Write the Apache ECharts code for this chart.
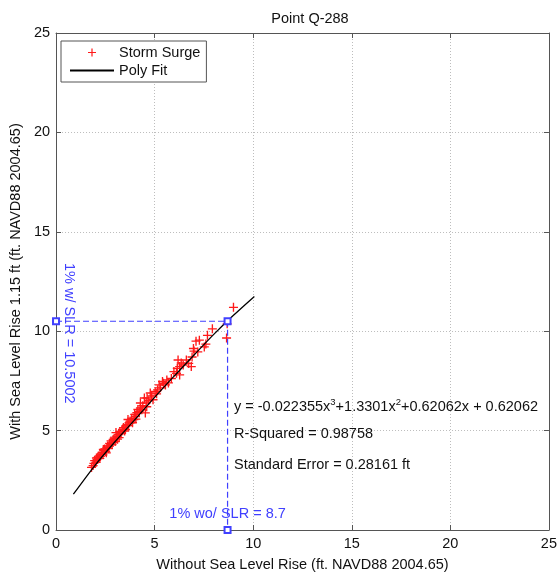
<!DOCTYPE html>
<html>
<head>
<meta charset="utf-8">
<script src="https://cdn.jsdelivr.net/npm/echarts@6/dist/echarts.min.js"></script>
<style>
  html, body { margin: 0; padding: 0; background: #fff; }
  #chart { width: 560px; height: 577px; }
</style>
</head>
<body>
<div id="chart"></div>
<script>
// Storm surge pairs: water level without / with sea level rise (ft)
const surgeX = [1.80, 1.88, 1.92, 1.96, 2.02, 2.08, 2.12, 2.18, 2.22, 2.29, 2.33, 2.38, 2.42, 2.46,
  2.52, 2.58, 2.62, 2.66, 2.72, 2.79, 2.84, 2.90, 2.95, 3.00, 3.04, 3.08, 3.12, 3.18, 3.24, 3.30,
  3.37, 3.42, 3.48, 3.54, 3.60, 3.65, 3.70, 3.76, 3.84, 3.95, 3.99, 4.03, 4.10, 4.15, 4.22, 4.28,
  4.28, 4.40, 4.48, 4.53, 4.57, 4.62, 4.70, 4.78, 4.85, 5.03, 5.10, 5.23, 5.30, 5.40, 5.45, 5.62,
  5.70, 5.98, 6.11, 6.15, 6.19, 6.27, 6.27, 6.35, 6.61, 6.73, 6.86, 6.97, 7.00, 7.10, 7.19, 7.27,
  7.52, 7.60, 7.68, 7.93, 8.65, 8.68, 9.00,
  2.05, 2.25, 2.40, 2.55, 2.70, 2.88, 3.05, 3.20, 3.35, 3.52, 3.68, 3.88, 4.05, 4.35, 4.60, 4.92,
  5.15, 5.55, 5.85, 6.45, 6.90];
const surgeY = [3.15, 3.24, 3.35, 3.49, 3.40, 3.55, 3.65, 3.72, 3.60, 3.82, 3.90, 3.78, 4.00, 4.07,
  3.95, 4.15, 4.23, 4.10, 4.35, 4.48, 4.30, 4.55, 4.62, 4.45, 4.90, 4.70, 4.57, 4.80, 4.95, 4.85,
  5.06, 5.15, 4.98, 5.23, 5.30, 5.56, 5.39, 5.48, 5.62, 5.56, 5.81, 5.70, 5.90, 6.06, 5.95, 6.14,
  6.39, 6.25, 6.64, 5.89, 6.39, 6.64, 6.50, 6.89, 6.75, 6.97, 6.85, 7.30, 7.15, 7.47, 7.38, 7.55,
  7.40, 7.97, 7.88, 8.13, 8.55, 8.22, 7.80, 8.40, 8.55, 8.38, 8.22, 9.13, 9.00, 9.50, 8.96, 9.55,
  9.21, 9.35, 9.79, 10.12, 9.66, 10.37, 11.20,
  3.62, 3.70, 4.05, 3.88, 4.22, 4.40, 4.62, 4.65, 5.00, 5.05, 5.25, 5.40, 5.58, 6.05, 6.20, 6.55,
  7.05, 7.30, 7.62, 8.30, 8.70];

// Polynomial fit curve, sampled
const fitX = [0.88, 2, 3, 4, 5, 6, 7, 8, 9, 10.06];
const fitY = [1.80, 3.28, 4.45, 5.55, 6.67, 7.75, 8.80, 9.84, 10.80, 11.75];

// 1% annual chance levels
const onePctWithout = 8.7;
const onePctWith = 10.5002;

// Axis ticks (both axes)
const axisTicks = [0, 5, 10, 15, 20, 25];

const titleText = 'Point Q-288';
const xName = 'Without Sea Level Rise (ft. NAVD88 2004.65)';
const yName = 'With Sea Level Rise 1.15 ft (ft. NAVD88 2004.65)';
const eqText = 'y = -0.022355x{s|3}+1.3301x{s|2}+0.62062x + 0.62062';
const r2Text = 'R-Squared = 0.98758';
const seText = 'Standard Error = 0.28161 ft';

const FONT = 'Liberation Sans, Arial, Helvetica, sans-serif';
const FS = 14.5;
const BLUE = '#4040ff';
const FRAME = '#555';

const chart = echarts.init(document.getElementById('chart'), null, { renderer: 'canvas' });

const tickMin = axisTicks[0];
const tickMax = axisTicks[axisTicks.length - 1];
const tickStep = axisTicks[1] - axisTicks[0];

function mainAxis(extra) {
  return Object.assign({
    type: 'value', min: tickMin, max: tickMax, interval: tickStep,
    axisLine: { show: true, onZero: false, lineStyle: { color: FRAME, width: 1 } },
    axisTick: { show: true, inside: true, length: 5, lineStyle: { color: FRAME } },
    axisLabel: { color: '#111', fontFamily: FONT, fontSize: FS },
    splitLine: { show: true, lineStyle: { color: '#bdbdbd', type: [1, 2], width: 1 } },
    nameTextStyle: { color: '#111', fontFamily: FONT, fontSize: FS }
  }, extra);
}
function mirrorAxis(extra) {
  return Object.assign({
    type: 'value', min: tickMin, max: tickMax, interval: tickStep,
    axisLine: { show: true, onZero: false, lineStyle: { color: FRAME, width: 1 } },
    axisTick: { show: true, inside: true, length: 5, lineStyle: { color: FRAME } },
    axisLabel: { show: false },
    splitLine: { show: false }
  }, extra);
}

// plus-shaped marker
const plusPath = 'path://M-0.6,-4 L0.6,-4 L0.6,-0.6 L4,-0.6 L4,0.6 L0.6,0.6 L0.6,4 L-0.6,4 L-0.6,0.6 L-4,0.6 L-4,-0.6 L-0.6,-0.6 Z';

const option = {
  animation: false,
  backgroundColor: '#fff',
  title: {
    text: titleText, left: 305, top: 6, textAlign: 'center',
    textStyle: { fontFamily: FONT, fontSize: FS, fontWeight: 'normal', color: '#111' }
  },
  legend: {
    data: [
      { name: 'Storm Surge' },
      { name: 'Poly Fit', itemStyle: { color: 'rgba(0,0,0,0)', borderWidth: 0, opacity: 0 } }
    ],
    orient: 'vertical', left: 61, top: 41,
    padding: [4, 6, 4, 8],
    itemWidth: 44, itemHeight: 8, itemGap: 3,
    borderColor: FRAME, borderWidth: 1, backgroundColor: '#fff',
    textStyle: { fontFamily: FONT, fontSize: FS, color: '#111' },
    selectedMode: false
  },
  grid: { left: 54, right: 4, top: 33, bottom: 41, containLabel: false },
  xAxis: [
    mainAxis({ position: 'bottom', name: xName, nameLocation: 'middle', nameGap: 27,
      axisLabel: { color: '#111', fontFamily: FONT, fontSize: FS, margin: 6 } }),
    mirrorAxis({ position: 'top' })
  ],
  yAxis: [
    mainAxis({ position: 'left', name: yName, nameLocation: 'middle', nameGap: 26,
      axisLabel: { color: '#111', fontFamily: FONT, fontSize: FS, margin: 6 } }),
    mirrorAxis({ position: 'right' })
  ],
  series: [
    {
      name: 'Storm Surge', type: 'scatter',
      data: surgeX.map((x, i) => [x, surgeY[i]]),
      symbol: plusPath, symbolSize: 9,
      itemStyle: { color: '#ff1a1a', opacity: 1 },
      z: 3
    },
    {
      name: 'Poly Fit', type: 'line',
      data: fitX.map((x, i) => [x, fitY[i]]),
      showSymbol: false, symbol: 'none', smooth: 0.3,
      lineStyle: { color: '#000', width: 1.3 },
      itemStyle: { color: '#000' },
      z: 4
    },
    {
      name: 'levels', type: 'line',
      data: [[tickMin, onePctWith], [onePctWithout, onePctWith], [onePctWithout, tickMin]],
      symbol: 'emptyRect', symbolSize: 6, showSymbol: true, clip: false,
      lineStyle: { color: BLUE, width: 1.2, type: [6, 3] },
      itemStyle: { color: BLUE, borderColor: BLUE, borderWidth: 0.9 },
      z: 5
    }
  ],
  graphic: []
};

chart.setOption(option);

// Text annotations positioned against the axes
const pWithout = chart.convertToPixel({ xAxisIndex: 0, yAxisIndex: 0 }, [onePctWithout, tickMin]);
const pWith = chart.convertToPixel({ xAxisIndex: 0, yAxisIndex: 0 }, [tickMin, onePctWith]);

chart.setOption({
  graphic: [
    {
      type: 'text', x: pWithout[0], y: pWithout[1] - 16, z: 10,
      style: { text: '1% wo/ SLR = ' + onePctWithout, fill: BLUE, font: FS + 'px ' + FONT,
        align: 'center', verticalAlign: 'middle' }
    },
    {
      type: 'text', x: pWith[0] + 13, y: pWith[1] + 12, rotation: -Math.PI / 2, z: 10,
      style: { text: '1% w/ SLR = ' + onePctWith, fill: BLUE, font: FS + 'px ' + FONT,
        align: 'center', verticalAlign: 'middle' }
    },
    {
      type: 'text', x: 234, y: 407, z: 10,
      style: {
        text: eqText, fill: '#111', font: FS + 'px ' + FONT, align: 'left', verticalAlign: 'middle',
        rich: { s: { fontSize: 9.5, fontFamily: FONT, fill: '#111', padding: [0, 0, 9, 0] } }
      }
    },
    {
      type: 'text', x: 234, y: 434, z: 10,
      style: { text: r2Text, fill: '#111', font: FS + 'px ' + FONT, align: 'left', verticalAlign: 'middle' }
    },
    {
      type: 'text', x: 234, y: 465, z: 10,
      style: { text: seText, fill: '#111', font: FS + 'px ' + FONT, align: 'left', verticalAlign: 'middle' }
    }
  ]
});
</script>
</body>
</html>
